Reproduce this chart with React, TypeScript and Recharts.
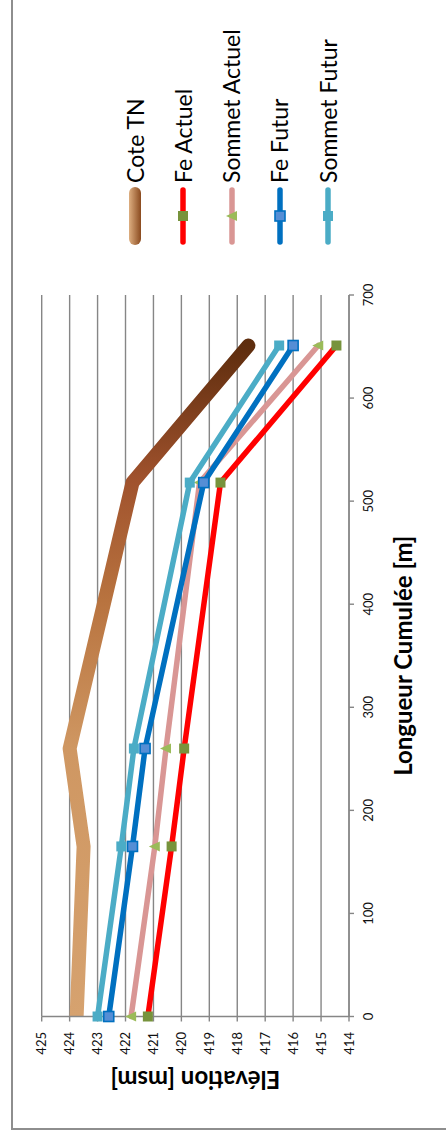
import React from 'react';
import { LineChart, Line, XAxis, YAxis, CartesianGrid, Legend } from 'recharts';

// ---- data ----
const distances = [0, 165, 260, 518, 651];
const coteTN = [423.75, 423.5, 424.0, 421.75, 417.6];
const feActuel = [421.2, 420.35, 419.9, 418.6, 414.45];
const sommetActuel = [421.8, 420.95, 420.55, 419.35, 415.1];
const feFutur = [422.6, 421.75, 421.3, 419.2, 416.0];
const sommetFutur = [423.0, 422.15, 421.7, 419.7, 416.5];

const xTicks = [0, 100, 200, 300, 400, 500, 600, 700];
const yTicks = [414, 415, 416, 417, 418, 419, 420, 421, 422, 423, 424, 425];

const seriesNames = ['Cote TN', 'Fe Actuel', 'Sommet Actuel', 'Fe Futur', 'Sommet Futur'];
const xTitle = 'Longueur Cumulée [m]';
const yTitle = 'Elévation [msm]';

const data = distances.map((d, i) => ({
  x: d,
  tn: coteTN[i],
  fa: feActuel[i],
  sa: sommetActuel[i],
  ff: feFutur[i],
  sf: sommetFutur[i],
}));

// ---- styles ----
const W = 1137;
const H = 446;
const FONT = 'Lato, "Open Sans", sans-serif';
const GRID = '#868686';
const RED = '#FF0000';
const PINK = '#D99694';
const BLUE = '#0070C0';
const LBLUE = '#4BACC6';
const GREEN_DARK = '#77933C';
const GREEN_LIGHT = '#9BBB59';
const BLUE_FILL = '#558ED5';

const makeSquare = (id: string, fill: string, stroke?: string, size = 10) => (props: any) => {
  const { cx, cy, index } = props;
  if (cx == null || cy == null) return <g key={`${id}-${index}`} />;
  return (
    <rect
      key={`${id}-${index}`}
      x={cx - size / 2}
      y={cy - size / 2}
      width={size}
      height={size}
      fill={fill}
      stroke={stroke || 'none'}
      strokeWidth={stroke ? 1.6 : 0}
    />
  );
};

const makeTriangle = (id: string, fill: string) => (props: any) => {
  const { cx, cy, index } = props;
  if (cx == null || cy == null) return <g key={`${id}-${index}`} />;
  return (
    <polygon
      key={`${id}-${index}`}
      points={`${cx},${cy - 6} ${cx + 5},${cy + 5} ${cx - 5},${cy + 5}`}
      fill={fill}
    />
  );
};

const legendIcon = (i: number) => {
  if (i === 0) {
    return (
      <svg width={62} height={20}>
        <defs>
          <linearGradient id="tnLegendGrad" x1="0" y1="0" x2="0" y2="1">
            <stop offset="0" stopColor="#DDAE80" />
            <stop offset="1" stopColor="#8A4A1E" />
          </linearGradient>
        </defs>
        <rect x={3} y={4} width={58} height={12} rx={6} fill="url(#tnLegendGrad)" />
      </svg>
    );
  }
  const colors = [RED, RED, PINK, BLUE, LBLUE];
  const c = colors[i];
  let marker: React.ReactNode = null;
  if (i === 1) marker = <rect x={27} y={5} width={10} height={10} fill={GREEN_DARK} />;
  if (i === 2) marker = <polygon points="32,4 37,15 27,15" fill={GREEN_LIGHT} />;
  if (i === 3) marker = <rect x={27} y={5} width={10} height={10} fill={BLUE_FILL} stroke={BLUE} strokeWidth={1.6} />;
  if (i === 4) marker = <rect x={27} y={5} width={10} height={10} fill={LBLUE} />;
  return (
    <svg width={62} height={20}>
      <line x1={6} y1={10} x2={58} y2={10} stroke={c} strokeWidth={5.5} strokeLinecap="round" />
      {marker}
    </svg>
  );
};

const renderLegend = () => (
  <div style={{ position: 'relative', width: 240, height: 250 }}>
    {seriesNames.map((name, i) => (
      <div
        key={name}
        style={{
          position: 'absolute',
          left: 0,
          top: i * 48.25,
          height: 48,
          display: 'flex',
          alignItems: 'center',
        }}
      >
        {legendIcon(i)}
        <span style={{ fontFamily: FONT, fontSize: 23, lineHeight: 1, color: '#000', marginLeft: 3, whiteSpace: 'nowrap' }}>
          {name}
        </span>
      </div>
    ))}
  </div>
);

const tickStyle = { fontFamily: FONT, fontSize: 13, fill: '#111' };
const titleStyle = { fontFamily: FONT, fontSize: 24, fontWeight: 700, fill: '#000' };

export default function App() {
  return (
    <div
      style={{
        position: 'absolute',
        left: 0,
        top: 0,
        width: H,
        height: W,
        overflow: 'hidden',
        background: '#fff',
      }}
    >
      <div
        style={{
          position: 'absolute',
          left: 0,
          top: 0,
          width: W,
          height: H,
          transformOrigin: '0 0',
          transform: `translateY(${W}px) rotate(-90deg)`,
        }}
      >
        <div
          style={{
            position: 'absolute',
            left: 7,
            top: 11,
            width: 1200,
            height: 500,
            border: '2px solid #8e8e8e',
          }}
        />
        <div style={{ position: 'absolute', left: 0, top: 0 }}>
          <LineChart
            width={W}
            height={H}
            data={data}
            margin={{ top: 41.7, right: 295, bottom: 37, left: 0.5 }}
          >
            <defs>
              <linearGradient id="tnGrad" x1="0" y1="0" x2="1" y2="0">
                <stop offset="0" stopColor="#D6A26F" />
                <stop offset="0.4" stopColor="#CF9762" />
                <stop offset="0.62" stopColor="#B8733F" />
                <stop offset="0.8" stopColor="#A0522D" />
                <stop offset="1" stopColor="#5E2D0E" />
              </linearGradient>
            </defs>
            <CartesianGrid horizontal vertical={false} stroke={GRID} strokeWidth={1.4} />
            <XAxis
              dataKey="x"
              type="number"
              domain={[0, 700]}
              ticks={xTicks}
              interval={0}
              height={60}
              tickSize={5}
              tickMargin={10}
              axisLine={{ stroke: GRID, strokeWidth: 1.4 }}
              tickLine={{ stroke: GRID, strokeWidth: 1.4 }}
              tick={tickStyle}
              label={{ value: xTitle, position: 'insideBottom', offset: -3, style: titleStyle }}
            />
            <XAxis
              xAxisId="clip"
              dataKey="x"
              type="number"
              domain={[0, 700]}
              allowDataOverflow
              hide
            />
            <YAxis
              type="number"
              domain={[414, 425]}
              ticks={yTicks}
              interval={0}
              width={120}
              tickSize={5}
              tickMargin={10.5}
              axisLine={{ stroke: GRID, strokeWidth: 1.4 }}
              tickLine={{ stroke: GRID, strokeWidth: 1.4 }}
              tick={tickStyle}
              label={{
                value: yTitle,
                angle: -90,
                position: 'insideLeft',
                offset: 57,
                style: { ...titleStyle, textAnchor: 'middle' },
              }}
            />
            <Legend
              layout="vertical"
              align="center"
              verticalAlign="middle"
              content={renderLegend}
              wrapperStyle={{ left: 889, top: 111, width: 240, height: 250 }}
            />
            <Line
              xAxisId="clip"
              dataKey="tn"
              name={seriesNames[0]}
              stroke="url(#tnGrad)"
              strokeWidth={14}
              strokeLinecap="round"
              strokeLinejoin="round"
              dot={false}
              activeDot={false}
              isAnimationActive={false}
            />
            <Line
              dataKey="fa"
              name={seriesNames[1]}
              stroke={RED}
              strokeWidth={5.5}
              strokeLinecap="round"
              strokeLinejoin="round"
              dot={makeSquare('fa', GREEN_DARK)}
              activeDot={false}
              isAnimationActive={false}
            />
            <Line
              dataKey="sa"
              name={seriesNames[2]}
              stroke={PINK}
              strokeWidth={5.5}
              strokeLinecap="round"
              strokeLinejoin="round"
              dot={makeTriangle('sa', GREEN_LIGHT)}
              activeDot={false}
              isAnimationActive={false}
            />
            <Line
              dataKey="ff"
              name={seriesNames[3]}
              stroke={BLUE}
              strokeWidth={5.5}
              strokeLinecap="round"
              strokeLinejoin="round"
              dot={makeSquare('ff', BLUE_FILL, BLUE)}
              activeDot={false}
              isAnimationActive={false}
            />
            <Line
              dataKey="sf"
              name={seriesNames[4]}
              stroke={LBLUE}
              strokeWidth={5.5}
              strokeLinecap="round"
              strokeLinejoin="round"
              dot={makeSquare('sf', LBLUE)}
              activeDot={false}
              isAnimationActive={false}
            />
          </LineChart>
        </div>
      </div>
    </div>
  );
}
